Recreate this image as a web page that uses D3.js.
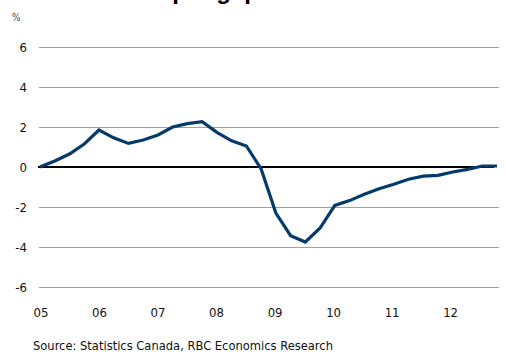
<!DOCTYPE html>
<html>
<head>
<meta charset="utf-8">
<script src="https://cdn.jsdelivr.net/npm/d3@7"></script>
<style>
  body { margin: 0; background: #fff; }
  svg { display: block; }
</style>
</head>
<body>
<div id="chart"></div>
<script>
'use strict'

// quarterly output gap, 2005Q1 .. 2012Q4
const quarters = d3.range(32).map(i => `${2005 + Math.floor(i / 4)}Q${i % 4 + 1}`);
const gap = [
  0.0, 0.3, 0.65, 1.15,
  1.85, 1.46, 1.18, 1.35,
  1.6, 2.0, 2.17, 2.27,
  1.73, 1.31, 1.05, -0.1,
  -2.3, -3.43, -3.75, -3.05,
  -1.92, -1.68, -1.36, -1.09,
  -0.86, -0.61, -0.46, -0.42,
  -0.25, -0.12, 0.05, 0.05
];
const yTicks = [-6, -4, -2, 0, 2, 4, 6];
const xLabels = ['05', '06', '07', '08', '09', '10', '11', '12'];

const width = 506;
const height = 352;
const font = '"DejaVu Sans Condensed", "DejaVu Sans", Verdana, sans-serif';

const svg = d3.select('#chart').append('svg')
  .attr('width', width)
  .attr('height', height);

const x = d3.scaleLinear().domain([0, quarters.length - 1]).range([40, 497]);
const y = d3.scaleLinear().domain([-6, 6]).range([287, 47]);

// title, mostly above the visible area (cut off like the original)
svg.append('text')
  .attr('x', 131)
  .attr('y', -1)
  .attr('font-family', '"Liberation Sans", Arial, sans-serif')
  .attr('font-weight', 'bold')
  .attr('font-size', 24)
  .attr('fill', '#000')
  .text('Output gap');

svg.append('text')
  .attr('x', 12)
  .attr('y', 21)
  .attr('font-family', font)
  .attr('font-size', 10)
  .attr('fill', '#444')
  .text('%');

// gridlines
svg.append('g')
  .selectAll('line')
  .data(yTicks.filter(d => d !== 0))
  .join('line')
  .attr('x1', 39)
  .attr('x2', 499)
  .attr('y1', d => Math.round(y(d)) + 0.5)
  .attr('y2', d => Math.round(y(d)) + 0.5)
  .attr('stroke', '#a0a0a0')
  .attr('stroke-width', 1);

// y labels
svg.append('g')
  .selectAll('text')
  .data(yTicks)
  .join('text')
  .attr('x', 27)
  .attr('y', d => y(d))
  .attr('dy', '0.36em')
  .attr('text-anchor', 'end')
  .attr('font-family', font)
  .attr('font-size', 13)
  .attr('fill', '#111')
  .text(d => d);

// x labels, one per year
svg.append('g')
  .selectAll('text')
  .data(xLabels)
  .join('text')
  .attr('x', (d, i) => x(i * 4) + 1 - i * 0.45)
  .attr('y', 317)
  .attr('text-anchor', 'middle')
  .attr('font-family', font)
  .attr('font-size', 13)
  .attr('fill', '#111')
  .text(d => d);

// zero line
svg.append('line')
  .attr('x1', 38)
  .attr('x2', 494)
  .attr('y1', y(0))
  .attr('y2', y(0))
  .attr('stroke', '#000')
  .attr('stroke-width', 2);

const line = d3.line()
  .x((d, i) => x(i))
  .y(d => y(d));

svg.append('path')
  .datum(gap)
  .attr('d', line)
  .attr('fill', 'none')
  .attr('stroke', '#053a6b')
  .attr('stroke-width', 3.2)
  .attr('stroke-linejoin', 'miter');

svg.append('text')
  .attr('x', 33)
  .attr('y', 350)
  .attr('font-family', font)
  .attr('font-size', 12.8)
  .attr('fill', '#111')
  .text('Source: Statistics Canada, RBC Economics Research');
</script>
</body>
</html>
